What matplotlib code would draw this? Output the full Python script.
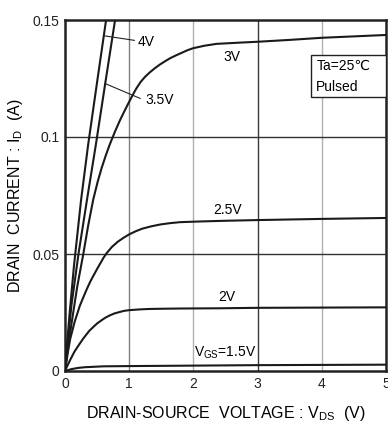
import numpy as np
import matplotlib
matplotlib.use('Agg')
import matplotlib.pyplot as plt
from matplotlib.patches import Rectangle

plt.rcParams['font.family'] = ['Liberation Sans', 'DejaVu Sans']
plt.rcParams['mathtext.fontset'] = 'custom'
plt.rcParams['mathtext.rm'] = 'Liberation Sans'

# drain current curves (Vds in V, Id in A)
vds_4v = [0, 0.035, 0.07, 0.14, 0.25, 0.36, 0.5, 0.64, 0.68]
id_4v = [0, 0.0125, 0.024, 0.045, 0.073, 0.0966, 0.1235, 0.150, 0.157]

vds_35v = [0, 0.05, 0.1, 0.21, 0.35, 0.48, 0.63, 0.78, 0.82]
id_35v = [0, 0.0145, 0.028, 0.050, 0.0745, 0.0966, 0.1235, 0.150, 0.157]

vds_3v = [0, 0.05, 0.1, 0.19, 0.285, 0.36, 0.44, 0.51, 0.57, 0.64, 0.70, 0.78, 0.857, 0.95,
          1.04, 1.11, 1.18, 1.25, 1.32, 1.40, 1.48, 1.56, 1.64, 1.73, 1.82, 1.90, 1.99,
          2.17, 2.36, 2.7, 3.0, 3.5, 4.0, 4.5, 5.0]
id_3v = [0, 0.0105, 0.020, 0.036, 0.050, 0.062, 0.0733, 0.0810, 0.0867, 0.0925, 0.0970,
         0.1024, 0.1072, 0.1124, 0.1172, 0.1207, 0.1236, 0.1258, 0.1276, 0.1294, 0.131,
         0.1324, 0.1337, 0.1349, 0.136, 0.137, 0.1379, 0.139, 0.1398, 0.1403, 0.1407,
         0.1415, 0.1424, 0.1430, 0.1436]

vds_25v = [0, 0.04, 0.08, 0.15, 0.23, 0.29, 0.34, 0.39, 0.44, 0.50, 0.55, 0.60, 0.65, 0.73,
           0.82, 0.91, 1.0, 1.1, 1.2, 1.34, 1.48, 1.64, 1.79, 2.1, 2.5, 3.0, 4.0, 5.0]
id_25v = [0, 0.0072, 0.0136, 0.021, 0.0278, 0.0318, 0.035, 0.038, 0.0406, 0.0436, 0.046,
          0.0484, 0.0504, 0.053, 0.0552, 0.0569, 0.0584, 0.0597, 0.0608, 0.0618, 0.0626,
          0.0632, 0.0636, 0.0639, 0.0642, 0.0645, 0.0650, 0.0654]

vds_2v = [0, 0.04, 0.08, 0.15, 0.23, 0.28, 0.33, 0.38, 0.44, 0.50, 0.57, 0.63, 0.70, 0.77,
          0.85, 0.92, 1.0, 1.15, 1.3, 1.5, 1.79, 2.4, 3.0, 4.0, 5.0]
id_2v = [0, 0.0024, 0.0047, 0.0084, 0.0117, 0.0137, 0.0155, 0.0172, 0.0188, 0.0203,
         0.0217, 0.0228, 0.0238, 0.0246, 0.0252, 0.0257, 0.0260, 0.0263, 0.0265, 0.0266,
         0.0267, 0.0268, 0.0270, 0.0271, 0.0272]

vds_15v = [0, 0.05, 0.1, 0.2, 0.3, 0.45, 0.6, 0.8, 1.0, 2.0, 3.0, 4.0, 5.0]
id_15v = [0, 0.0004, 0.0008, 0.0013, 0.0016, 0.0018, 0.0020, 0.00205, 0.0021, 0.0023,
          0.0025, 0.0026, 0.0027]

curves = [(vds_4v, id_4v), (vds_35v, id_35v), (vds_3v, id_3v),
          (vds_25v, id_25v), (vds_2v, id_2v), (vds_15v, id_15v)]

x_ticks = [0, 1, 2, 3, 4, 5]
x_ticklabels = ['0', '1', '2', '3', '4', '5']
y_ticks = [0, 0.05, 0.1, 0.15]
y_ticklabels = ['0', '0.05', '0.1', '0.15']

fig = plt.figure(figsize=(3.88, 4.25), dpi=100)
ax = fig.add_axes([65/388, 54/425, 321/388, 351/425])

# grid lines
vgrid_colors = {1: '#808080', 2: '#b0b0b0', 3: '#3a3a3a', 4: '#b0b0b0'}
for xv, c in vgrid_colors.items():
    ax.axvline(xv, color=c, lw=1.0, zorder=1)
for yv in [0.05, 0.1]:
    ax.axhline(yv, color='#333333', lw=1.0, zorder=1)

for v, i in curves:
    ax.plot(v, i, color='#1a1a1a', lw=1.5, zorder=3, solid_capstyle='round',
            solid_joinstyle='round')

ax.set_xlim(0, 5)
ax.set_ylim(0, 0.15)
ax.set_xticks(x_ticks)
ax.set_xticklabels(x_ticklabels)
ax.set_yticks(y_ticks)
ax.set_yticklabels(y_ticklabels)
ax.tick_params(length=0, labelsize=10, pad=4, colors='#222222')
for sp in ax.spines.values():
    sp.set_linewidth(1.8)
    sp.set_color('#222222')

# curve labels and leaders
fs = 10
ax.text(1.27, 0.1406, '4V', ha='center', va='center', fontsize=fs)
ax.plot([0.62, 1.08], [0.1432, 0.1413], color='#222222', lw=0.8, zorder=4)
ax.text(1.47, 0.1158, '3.5V', ha='center', va='center', fontsize=fs)
ax.plot([0.62, 1.17], [0.1229, 0.1165], color='#222222', lw=0.8, zorder=4)
ax.text(2.60, 0.1340, '3V', ha='center', va='center', fontsize=fs)
ax.text(2.53, 0.0688, '2.5V', ha='center', va='center', fontsize=fs)
ax.text(2.52, 0.0316, '2V', ha='center', va='center', fontsize=fs)
ax.text(2.50, 0.0077, r'V$_{\mathregular{GS}}$=1.5V', ha='center', va='center', fontsize=fs)

# condition box
ax.add_patch(Rectangle((0.766, 0.781), 0.234, 0.12, transform=ax.transAxes,
                       fill=True, facecolor='white', edgecolor='#222222', lw=1.0, zorder=5))
ax.text(0.783, 0.868, 'Ta=25℃', transform=ax.transAxes, ha='left', va='center',
        fontsize=10, zorder=6)
ax.text(0.783, 0.810, 'Pulsed', transform=ax.transAxes, ha='left', va='center',
        fontsize=10, zorder=6)

ax.set_xlabel(r'DRAIN-SOURCE  VOLTAGE : V$_{\mathregular{DS}}$  (V)', fontsize=11.5, labelpad=10)
ax.set_ylabel(r'DRAIN  CURRENT : I$_{\mathregular{D}}$  (A)', fontsize=11.5, labelpad=5)

fig.savefig('out.png', dpi=100)
